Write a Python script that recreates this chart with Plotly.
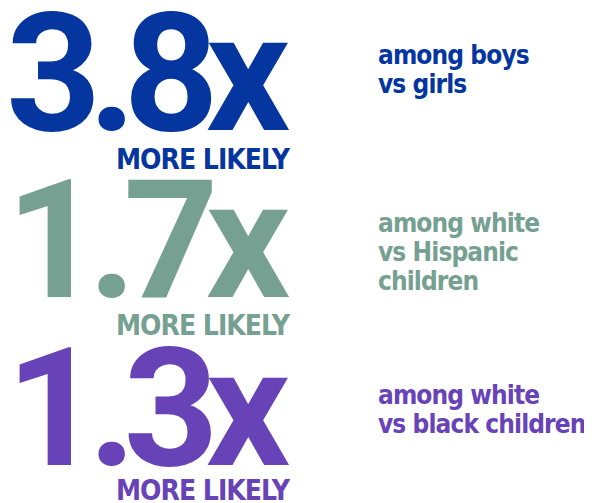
import plotly.graph_objects as go

# Data
multipliers = ["3.8x", "1.7x", "1.3x"]
subtitle = "MORE LIKELY"
descriptions = [
    ["among boys", "vs girls"],
    ["among white", "vs Hispanic", "children"],
    ["among white", "vs black children"],
]
colors = ["#0536A0", "#76A091", "#6843B8"]

W, H = 592, 503
big_center = [65, 232, 400]
sub_center = [151.5, 317, 482]
desc_center = [46.5, 214.5, 386.5]
big_right = 284
sub_right = 285
desc_left = 368
line_gap = 29

big_font = "Roboto, Liberation Sans, sans-serif"
cond_font = "DejaVu Sans Condensed, Liberation Sans, sans-serif"


def spaced(t, ls):
    return f'<span style="letter-spacing:{ls}px">{t}</span>'


annotations = []
for i, (m, desc, col) in enumerate(zip(multipliers, descriptions, colors)):
    annotations.append(dict(
        x=big_right, y=big_center[i], text=spaced(m, -13), showarrow=False,
        xanchor="right", yanchor="middle",
        font=dict(family=big_font, size=166, color=col, weight="bold"),
    ))
    annotations.append(dict(
        x=sub_right, y=sub_center[i], text=spaced(subtitle, -1), showarrow=False,
        xanchor="right", yanchor="middle",
        font=dict(family=cond_font, size=28, color=col, weight="bold"),
    ))
    for j, line in enumerate(desc):
        annotations.append(dict(
            x=desc_left, y=desc_center[i] + j * line_gap, text=spaced(line, -0.9), showarrow=False,
            xanchor="left", yanchor="middle",
            font=dict(family=cond_font, size=26, color=col, weight="bold"),
        ))

fig = go.Figure()
fig.update_layout(
    width=W, height=H,
    margin=dict(l=0, r=0, t=0, b=0),
    paper_bgcolor="white", plot_bgcolor="white",
    xaxis=dict(range=[0, W], visible=False, fixedrange=True),
    yaxis=dict(range=[H, 0], visible=False, fixedrange=True),
    annotations=annotations,
    showlegend=False,
)
fig.write_html("out.html", config={"displayModeBar": False})
